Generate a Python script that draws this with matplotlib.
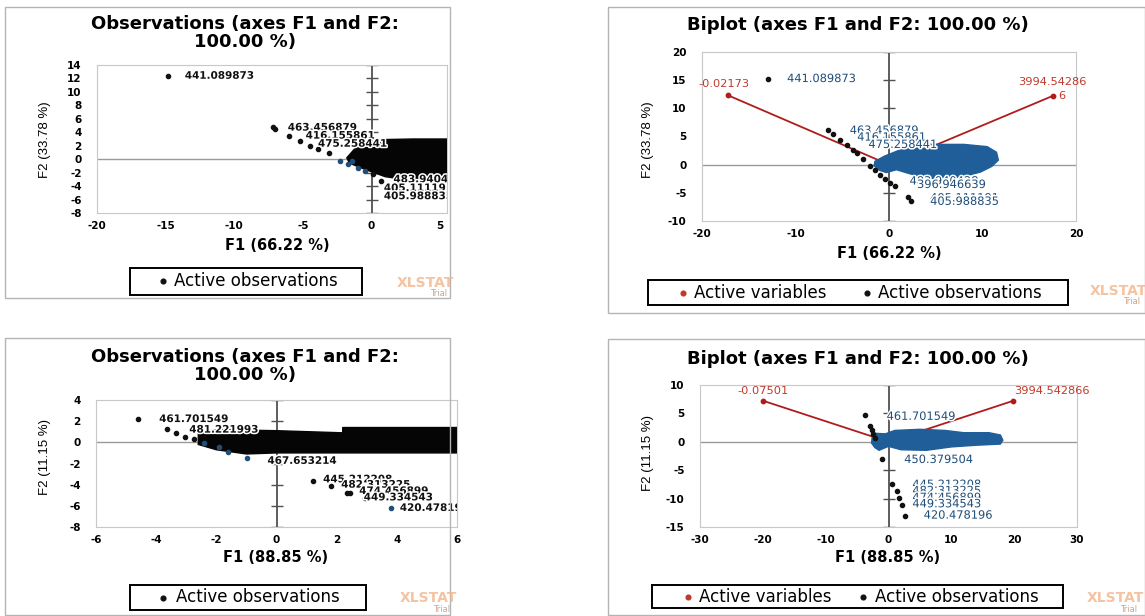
import matplotlib
matplotlib.use("Agg")
import matplotlib.pyplot as plt
from matplotlib.patches import Rectangle
from matplotlib.lines import Line2D
import matplotlib.patheffects as pe

plt.rcParams['axes.unicode_minus'] = False

# ---------------- DATA ----------------
# Top-left: Observations (F1 66.22 %, F2 33.78 %)
tl_obs_f1 = [-14.8, -7.2, -7.0, -6.0, -5.2, -4.5, -3.9, -3.1, 0.1, 0.7]
tl_obs_f2 = [12.4, 4.8, 4.5, 3.4, 2.7, 1.9, 1.5, 0.9, -2.2, -3.3]
tl_blue_f1 = [-2.3, -1.7, -1.4, -1.0, -0.5]
tl_blue_f2 = [-0.3, -0.7, -0.3, -1.3, -1.8]
tl_cloud_f1 = [-1.8, -1.2, 0.0, 0.5, 3.0, 9.0, 9.0, 3.0, 1.0, -0.5, -1.6]
tl_cloud_f2 = [0.2, 1.6, 2.4, 2.9, 3.0, 3.0, -2.8, -3.2, -2.6, -1.5, -0.6]
tl_labels = ["441.089873", "463.456879", "416.155861", "475.258441", "483.940428", "405.111191", "405.988835"]
tl_lab_f1 = [-13.6, -6.1, -4.8, -3.9, 1.6, 0.9, 0.9]
tl_lab_f2 = [12.4, 4.7, 3.5, 2.3, -3.0, -4.3, -5.5]

# Top-right: Biplot (F1 66.22 %, F2 33.78 %)
tr_var_f1 = [-17.2, 17.5]
tr_var_f2 = [12.3, 12.2]
tr_var_labels = ["-0.02173", "3994.54286"]
tr_obs_f1 = [-12.9, -6.5, -6.0, -5.2, -4.5, -3.8, -3.4, -2.8, -2.0, -1.5, -1.0, -0.4, 0.1, 0.6, 2.0, 2.4]
tr_obs_f2 = [15.2, 6.2, 5.5, 4.4, 3.5, 2.6, 2.1, 1.0, -0.2, -0.9, -1.8, -2.5, -3.2, -3.7, -5.8, -6.4]
tr_cloud_f1 = [-1.5, -0.5, 1.0, 2.5, 4.0, 8.0, 10.5, 11.5, 11.7, 11.0, 9.8, 8.0, 5.5, 3.5, 2.0, 0.8, -0.3, -1.0, -1.6]
tr_cloud_f2 = [0.6, 1.5, 2.5, 3.2, 3.6, 3.6, 3.2, 2.2, 0.8, -0.3, -1.3, -2.1, -2.6, -2.2, -1.5, -0.9, -1.4, -1.0, -0.2]
tr_labels = ["441.089873", "463.456879", "416.155861", "475.258441", "483.940428", "396.946639", "405.111191", "405.988835"]
tr_lab_f1 = [-10.9, -4.2, -3.4, -2.2, 2.2, 3.0, 4.4, 4.4]
tr_lab_f2 = [15.2, 6.0, 4.8, 3.5, -3.0, -3.6, -6.0, -6.6]

# Bottom-left: Observations (F1 88.85 %, F2 11.15 %)
bl_obs_f1 = [-4.6, -3.65, -3.35, -3.05, -2.75, 1.2, 1.8, 2.35, 2.45, 2.95]
bl_obs_f2 = [2.2, 1.25, 0.85, 0.5, 0.35, -3.65, -4.1, -4.8, -4.8, -5.3]
bl_blue_f1 = [-2.4, -1.9, -1.6, -0.97, 3.8]
bl_blue_f2 = [-0.1, -0.45, -0.9, -1.5, -6.2]
bl_cloud_f1 = [-2.6, -2.0, 0.0, 2.2, 2.2, 6.5, 6.5, 2.5, 0.0, -1.0, -2.0, -2.6]
bl_cloud_f2 = [0.9, 1.2, 1.1, 0.9, 1.4, 1.4, -1.0, -1.0, -1.0, -1.1, -0.7, -0.2]
bl_labels = ["461.701549", "481.221993", "467.653214", "445.212208", "482.313225", "474.456899", "449.334543", "420.478196"]
bl_lab_f1 = [-3.9, -2.9, -0.3, 1.55, 2.15, 2.75, 2.9, 4.1]
bl_lab_f2 = [2.2, 1.2, -1.75, -3.5, -4.0, -4.6, -5.2, -6.2]

# Bottom-right: Biplot (F1 88.85 %, F2 11.15 %)
br_var_f1 = [-19.9, 19.8]
br_var_f2 = [7.2, 7.2]
br_var_labels = ["-0.07501", "3994.542866"]
br_obs_f1 = [-3.7, -2.9, -2.6, -2.4, -2.2, -1.0, 0.6, 1.3, 1.7, 2.2, 2.7]
br_obs_f2 = [4.75, 2.8, 2.1, 1.4, 0.6, -3.0, -7.4, -8.6, -9.9, -11.1, -13.0]
br_cloud_f1 = [-2.6, -2.2, -0.5, 1.0, 5.0, 9.0, 12.0, 16.0, 17.8, 18.2, 17.8, 14.0, 10.0, 6.0, 2.0, 0.0, -1.5, -2.2, -2.7]
br_cloud_f2 = [0.8, 1.5, 1.4, 2.0, 2.2, 2.0, 1.6, 1.6, 1.2, 0.3, -0.4, -0.6, -0.9, -1.5, -1.4, -0.8, -1.5, -1.0, -0.2]
br_labels = ["461.701549", "450.379504", "445.212208", "482.313225", "474.456899", "449.334543", "420.478196"]
br_lab_f1 = [-0.3, 2.5, 3.8, 3.8, 3.8, 3.8, 5.6]
br_lab_f2 = [4.4, -3.2, -7.6, -8.7, -9.9, -11.0, -13.0]

# ---------------- FIGURE ----------------
W, H = 1145, 616
fig = plt.figure(figsize=(W / 100, H / 100), dpi=100)


def fx(x):
    return x / W


def fy(y):
    return 1 - y / H


def add_ax(l, t, r, b):
    return fig.add_axes([fx(l), fy(b), (r - l) / W, (b - t) / H])


BLUE = "#1f5e99"
LBLUE = "#1f4e79"
RED_LINE = "#b01c1c"
RED_TXT = "#c0392b"
halo = [pe.withStroke(linewidth=2.2, foreground="white")]


def panel_border(l, t, r, b):
    fig.patches.append(Rectangle((fx(l), fy(b)), (r - l) / W, (b - t) / H,
                                 transform=fig.transFigure, fill=False,
                                 edgecolor="#b4b4b4", lw=1.0, zorder=0))


def style(ax, xlim, ylim, xticks, yticks):
    ax.set_xlim(xlim)
    ax.set_ylim(ylim)
    ax.set_xticks(xticks)
    ax.set_yticks(yticks)
    ax.tick_params(axis="x", length=0, pad=6, labelsize=7.5)
    ax.tick_params(axis="y", length=0, pad=11, labelsize=7.5)
    for lab in ax.get_xticklabels() + ax.get_yticklabels():
        lab.set_fontweight("bold")
    for s in ax.spines.values():
        s.set_color("#c8c8c8")
        s.set_linewidth(0.8)
    ax.axhline(0, color="#9a9a9a", lw=1.0, zorder=1)
    ax.axvline(0, color="#505050", lw=1.3, zorder=1)
    ax.plot([0] * len(yticks), yticks, ls="none", marker="_", ms=8,
            mew=1.0, color="#505050", zorder=1)


def texts(ax, labels, xs, ys, color, size, weight="normal"):
    for s, x, y in zip(labels, xs, ys):
        ax.text(x, y, s, color=color, fontsize=size, fontweight=weight,
                va="center", ha="left", path_effects=halo, zorder=5,
                clip_on=True)


def titles(cx, cy, title, xl, xlx, xly, yl, ylx, yly):
    fig.text(fx(cx), fy(cy), title, ha="center", va="center", fontsize=13,
             fontweight="bold", family="DejaVu Sans", linespacing=1.05)
    fig.text(fx(xlx), fy(xly), xl, ha="center", va="center", fontsize=10.5,
             fontweight="bold")
    fig.text(fx(ylx), fy(yly), yl, ha="center", va="center", fontsize=9.5,
             rotation=90, family=["Liberation Sans Narrow", "Liberation Sans"])


def watermark(x, y):
    fig.text(fx(x), fy(y), "XLSTAT", ha="center", va="center", fontsize=10,
             color="#f2b48a", fontweight="bold", alpha=0.8, zorder=2)
    fig.text(fx(x + 14), fy(y + 11), "Trial", ha="center", va="center",
             fontsize=6, color="#c8a890", zorder=2)


def legend_box(l, t, r, b, entries):
    fig.patches.append(Rectangle((fx(l), fy(b)), (r - l) / W, (b - t) / H,
                                 transform=fig.transFigure, facecolor="white",
                                 edgecolor="black", lw=1.4, zorder=4))
    cy = (t + b) / 2
    for dx, tx, col, txt in entries:
        fig.lines.append(Line2D([fx(dx)], [fy(cy)], ls="none", marker="o", ms=3.4,
                                color=col, transform=fig.transFigure, zorder=5))
        fig.text(fx(tx), fy(cy), txt, ha="left", va="center", fontsize=12,
                 zorder=5)


# ---------- Top-left ----------
panel_border(5, 7, 450, 298)
ax1 = add_ax(97, 65, 447, 213)
style(ax1, (-20, 5.5), (-8, 14), [-20, -15, -10, -5, 0, 5], list(range(-8, 15, 2)))
ax1.fill(tl_cloud_f1, tl_cloud_f2, color="#050505", zorder=3)
ax1.scatter(tl_obs_f1, tl_obs_f2, s=9, color="#111111", zorder=4)
ax1.scatter(tl_blue_f1, tl_blue_f2, s=9, color=LBLUE, zorder=4)
texts(ax1, tl_labels, tl_lab_f1, tl_lab_f2, "#111111", 7.5, "bold")
titles(245, 33, "Observations (axes F1 and F2:\n100.00 %)", "F1 (66.22 %)", 277, 245,
       "F2 (33.78 %)", 45, 140)
watermark(425, 283)
legend_box(130, 268, 362, 295, [(163, 174, "#111111", "Active observations")])

# ---------- Top-right ----------
panel_border(608, 7, 1145, 313)
ax2 = add_ax(702, 52, 1076, 221)
style(ax2, (-20, 20), (-10, 20), [-20, -10, 0, 10, 20], [-10, -5, 0, 5, 10, 15, 20])
for x, y in zip(tr_var_f1, tr_var_f2):
    ax2.plot([0, x], [0, y], color=RED_LINE, lw=1.3, zorder=2)
ax2.fill(tr_cloud_f1, tr_cloud_f2, color=BLUE, zorder=3)
ax2.scatter(tr_obs_f1, tr_obs_f2, s=9, color="#111111", zorder=4)
ax2.scatter(tr_var_f1, tr_var_f2, s=10, color=RED_LINE, zorder=6)
texts(ax2, tr_labels, tr_lab_f1, tr_lab_f2, LBLUE, 8.2)
ax2.text(tr_var_f1[0] - 0.4, tr_var_f2[0] + 1.2, tr_var_labels[0], color=RED_TXT,
         fontsize=8.2, ha="center", va="bottom", clip_on=False)
ax2.text(tr_var_f1[1], tr_var_f2[1] + 1.6, tr_var_labels[1], color=RED_TXT,
         fontsize=8.2, ha="center", va="bottom", clip_on=False)
ax2.text(tr_var_f1[1] + 0.6, tr_var_f2[1], "6", color=RED_TXT, fontsize=8.2,
         ha="left", va="center", clip_on=False)
titles(858, 25, "Biplot (axes F1 and F2: 100.00 %)", "F1 (66.22 %)", 889, 253,
       "F2 (33.78 %)", 648, 140)
watermark(1118, 291)
legend_box(648, 280, 1068, 305, [(683, 694, RED_TXT, "Active variables"),
                                 (867, 878, "#111111", "Active observations")])

# ---------- Bottom-left ----------
panel_border(5, 338, 450, 615)
ax3 = add_ax(96, 400, 457, 527)
style(ax3, (-6, 6), (-8, 4), [-6, -4, -2, 0, 2, 4, 6], [-8, -6, -4, -2, 0, 2, 4])
ax3.fill(bl_cloud_f1, bl_cloud_f2, color="#050505", zorder=3)
ax3.scatter(bl_obs_f1, bl_obs_f2, s=9, color="#111111", zorder=4)
ax3.scatter(bl_blue_f1, bl_blue_f2, s=9, color=LBLUE, zorder=4)
texts(ax3, bl_labels, bl_lab_f1, bl_lab_f2, "#111111", 7.5, "bold")
titles(245, 366, "Observations (axes F1 and F2:\n100.00 %)", "F1 (88.85 %)", 276, 558,
       "F2 (11.15 %)", 45, 457)
watermark(428, 598)
legend_box(130, 585, 366, 610, [(163, 176, "#111111", "Active observations")])

# ---------- Bottom-right ----------
panel_border(608, 339, 1145, 615)
ax4 = add_ax(700, 385, 1077, 527)
style(ax4, (-30, 30), (-15, 10), [-30, -20, -10, 0, 10, 20, 30], [-15, -10, -5, 0, 5, 10])
for x, y in zip(br_var_f1, br_var_f2):
    ax4.plot([0, x], [0, y], color=RED_LINE, lw=1.3, zorder=2)
ax4.fill(br_cloud_f1, br_cloud_f2, color=BLUE, zorder=3)
ax4.scatter(br_obs_f1, br_obs_f2, s=9, color="#111111", zorder=4)
ax4.scatter(br_var_f1, br_var_f2, s=10, color=RED_LINE, zorder=6)
texts(ax4, br_labels, br_lab_f1, br_lab_f2, LBLUE, 8.2)
ax4.text(br_var_f1[0], br_var_f2[0] + 0.8, br_var_labels[0], color=RED_TXT,
         fontsize=8.2, ha="center", va="bottom", clip_on=False)
ax4.text(br_var_f1[1] + 0.2, br_var_f2[1] + 0.8, br_var_labels[1], color=RED_TXT,
         fontsize=8.2, ha="left", va="bottom", clip_on=False)
titles(858, 359, "Biplot (axes F1 and F2: 100.00 %)", "F1 (88.85 %)", 888, 558,
       "F2 (11.15 %)", 648, 453)
watermark(1115, 598)
legend_box(652, 585, 1063, 608, [(688, 699, RED_TXT, "Active variables"),
                                 (863, 875, "#111111", "Active observations")])

fig.savefig("out.png", dpi=100)
